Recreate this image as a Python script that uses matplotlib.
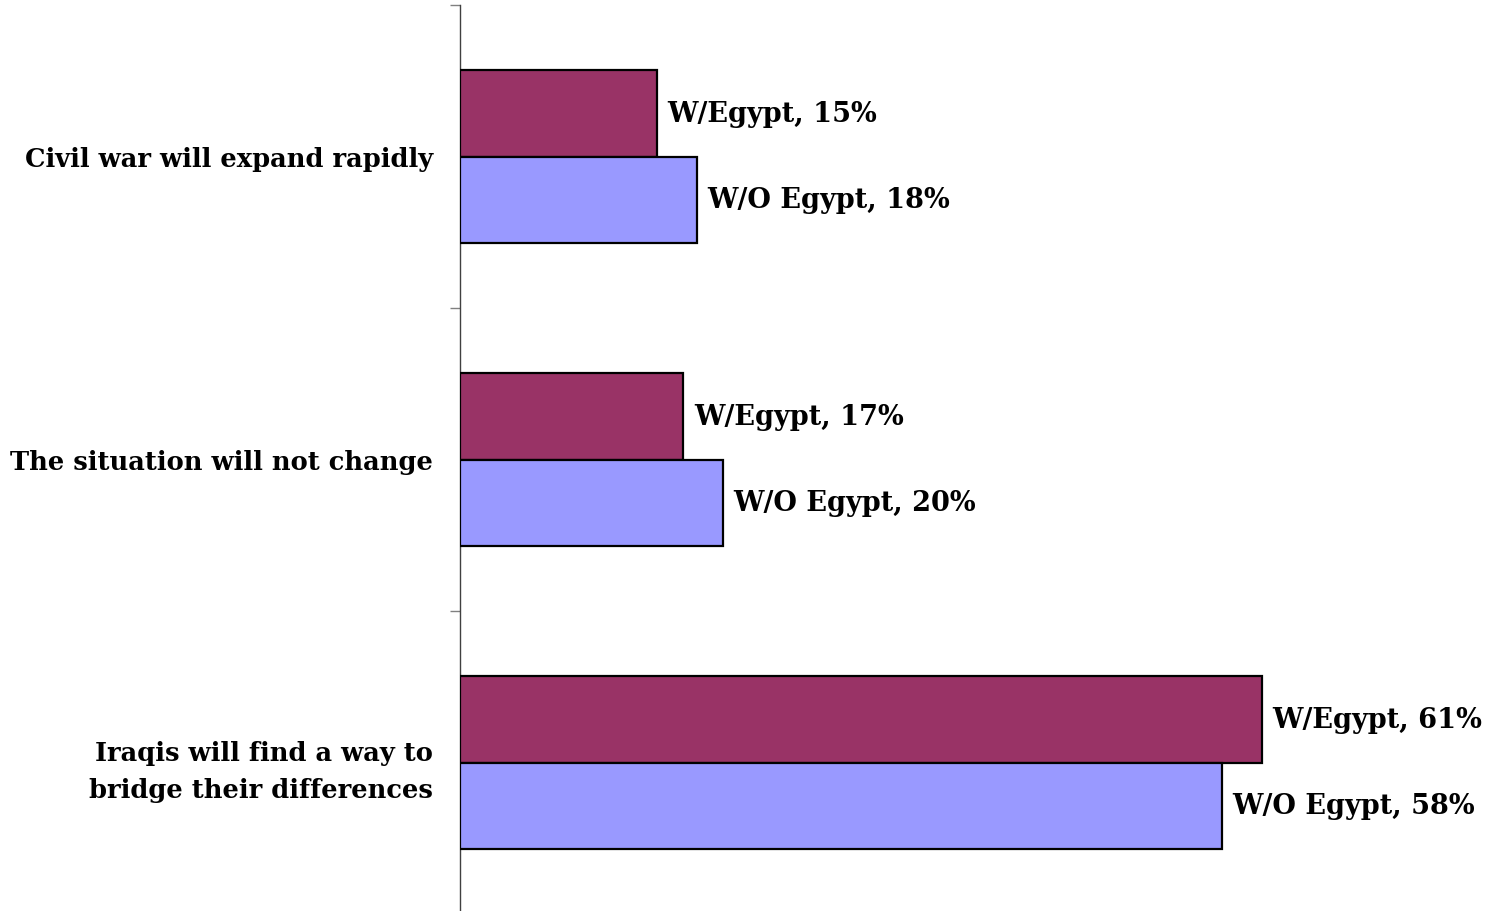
import matplotlib
matplotlib.use("Agg")
import matplotlib.pyplot as plt
import numpy as np

categories = ["Civil war will expand rapidly",
              "The situation will not change",
              "Iraqis will find a way to\nbridge their differences"]
series_names = ["W/Egypt", "W/O Egypt"]
with_egypt = [15, 17, 61]
without_egypt = [18, 20, 58]
colors = ["#993366", "#9999FF"]

W, H = 1490, 912
fig = plt.figure(figsize=(W / 100, H / 100), dpi=100)
left, right_px = 460, 1490
top_px, bot_px = 6, 915
ax = fig.add_axes([left / W, (H - bot_px) / H, (right_px - left) / W, (bot_px - top_px) / H])

font = dict(family="DejaVu Serif", weight="bold")
y = np.arange(len(categories))
h = 0.285
for vals, off, col, name in [(with_egypt, -h / 2, colors[0], series_names[0]),
                             (without_egypt, h / 2, colors[1], series_names[1])]:
    ax.barh(y + off, vals, height=h, color=col, edgecolor="black", linewidth=1.6, zorder=3)
    for yi, v in zip(y, vals):
        ax.text(v + 0.8, yi + off, f"{name}, {v}%", ha="left", va="center",
                fontsize=19.5, color="black", clip_on=False, **font)

ax.set_ylim(len(categories) - 0.5, -0.5)
ax.set_xlim(0, (right_px - left) / 13.14)
ax.set_yticks(y)
ax.set_yticklabels(categories, fontsize=18.5, ha="right", **font)
ax.tick_params(axis="y", which="major", length=0, pad=19.5)
ax.set_yticks(np.arange(-0.5, len(categories) + 0.5, 1), minor=True)
ax.tick_params(axis="y", which="minor", length=7.5, width=1, color="#808080")
ax.set_xticks([])
for s in ["top", "right", "bottom"]:
    ax.spines[s].set_visible(False)
ax.spines["left"].set_color("#404040")
ax.spines["left"].set_linewidth(1)
for lbl in ax.get_yticklabels():
    lbl.set_multialignment("right")
    lbl.set_linespacing(1.6)

fig.savefig("out.png", dpi=100)
